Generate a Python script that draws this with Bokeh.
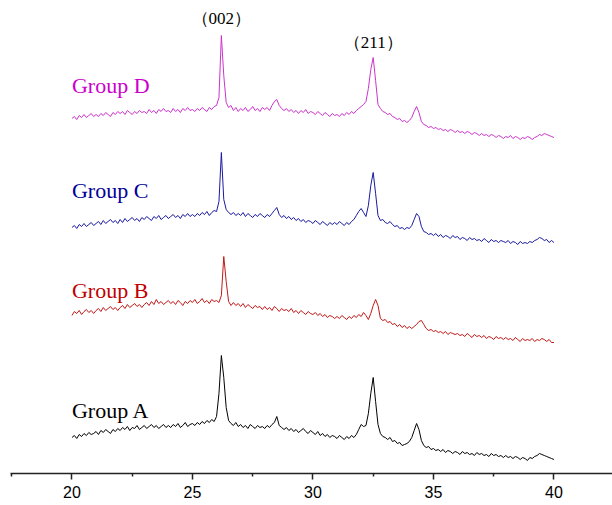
from bokeh.plotting import figure
from bokeh.models import Range1d, FixedTicker, ColumnDataSource
from bokeh.core.properties import value
from bokeh.embed import file_html
from bokeh.resources import INLINE

# 2-theta sampling grid (degrees), 20.0 .. 40.0 every 0.1
two_theta = [round(20 + 0.1 * i, 1) for i in range(201)]

# Stacked intensities (arbitrary units), one row per degree
group_a = [
    36, 38, 35, 39, 37, 40, 38, 41, 39, 40,
    42, 39, 43, 41, 44, 42, 40, 44, 42, 45,
    43, 46, 44, 47, 43, 46, 45, 48, 44, 46,
    48, 45, 47, 49, 46, 48, 45, 47, 49, 46,
    48, 46, 49, 47, 50, 46, 48, 51, 47, 49,
    50, 48, 51, 49, 52, 50, 53, 51, 54, 52,
    57, 80, 118, 96, 66, 53, 50, 48, 51, 47,
    49, 46, 48, 45, 49, 47, 45, 48, 46, 47,
    45, 48, 46, 49, 51, 57, 48, 46, 44, 46,
    43, 45, 42, 44, 41, 43, 45, 42, 40, 43,
    41, 39, 42, 38, 40, 37, 39, 36, 38, 37,
    35, 38, 36, 34, 37, 35, 38, 36, 39, 44,
    49, 47, 48, 60, 80, 96, 72, 49, 40, 37,
    36, 34, 36, 32, 33, 30, 31, 28, 29, 30,
    32, 36, 43, 50, 44, 33, 28, 26, 27, 24,
    25, 23, 24, 22, 24, 21, 23, 22, 20, 22,
    21, 19, 22, 20, 21, 19, 20, 18, 21, 19,
    20, 18, 19, 17, 20, 18, 19, 17, 18, 16,
    18, 16, 17, 15, 17, 16, 14, 16, 15, 13,
    16, 15, 17, 18, 20, 19, 18, 17, 16, 15,
    14,
]
group_b = [
    158, 162, 160, 163, 159, 162, 164, 161, 163, 160,
    163, 165, 162, 166, 163, 165, 167, 164, 166, 163,
    166, 168, 165, 169, 166, 168, 170, 167, 169, 166,
    169, 171, 168, 172, 169, 174, 170, 172, 169, 171,
    173, 170, 172, 169, 173, 171, 168, 172, 170, 173,
    171, 174, 170, 172, 175, 171, 173, 170, 174, 172,
    173, 171, 178, 217, 192, 172, 168, 171, 168, 170,
    167, 170, 166, 169, 167, 165, 168, 166, 167, 164,
    167, 164, 166, 163, 167, 165, 162, 165, 163, 164,
    162, 165, 161, 163, 160, 163, 161, 159, 162, 160,
    159, 161, 158, 160, 157, 159, 156, 158, 157, 155,
    157, 155, 158, 156, 154, 157, 155, 158, 156, 159,
    157, 161, 158, 154, 160, 168, 174, 168, 155, 153,
    154, 151, 152, 149, 150, 147, 149, 146, 148, 145,
    147, 145, 147, 149, 152, 153, 149, 145, 143, 144,
    142, 143, 141, 142, 140, 142, 139, 141, 140, 139,
    140, 138, 139, 137, 140, 138, 136, 139, 137, 138,
    136, 138, 135, 137, 136, 134, 137, 135, 136, 134,
    136, 134, 135, 133, 136, 134, 132, 135, 133, 134,
    133, 135, 132, 134, 133, 135, 134, 132, 134, 131,
    131,
]
group_c = [
    246, 248, 245, 249, 247, 250, 247, 249, 251, 248,
    250, 252, 249, 253, 250, 252, 254, 251, 253, 250,
    254, 251, 255, 252, 254, 256, 253, 255, 252, 256,
    254, 257, 255, 253, 257, 255, 258, 254, 256, 258,
    255, 257, 259, 256, 258, 255, 259, 257, 260, 257,
    259, 257, 260, 258, 261, 259, 262, 258, 261, 263,
    262, 272, 321, 274, 264, 261, 259, 261, 258, 260,
    258, 261, 257, 260, 258, 256, 259, 257, 260, 258,
    256, 259, 257, 260, 263, 266, 259, 256, 258, 255,
    257, 254, 256, 253, 255, 252, 254, 251, 253, 252,
    250, 253, 251, 249, 252, 250, 248, 251, 249, 251,
    249, 252, 250, 248, 251, 249, 252, 254, 258, 262,
    265, 261, 257, 268, 288, 301, 280, 258, 253, 254,
    251, 250, 252, 249, 247, 248, 245, 246, 244, 246,
    245, 248, 254, 260, 257, 247, 242, 241, 239, 240,
    238, 240, 237, 239, 236, 238, 237, 235, 238, 236,
    237, 234, 236, 235, 233, 236, 234, 235, 233, 234,
    232, 235, 233, 231, 234, 232, 233, 231, 233, 232,
    231, 233, 230, 232, 231, 229, 232, 230, 231, 230,
    232, 231, 233, 234, 236, 235, 233, 234, 231, 233,
    231,
]
group_d = [
    355, 357, 354, 358, 356, 359, 356, 358, 360, 357,
    359, 357, 360, 358, 361, 359, 357, 361, 359, 362,
    360, 362, 359, 363, 361, 359, 362, 360, 363, 361,
    362, 360, 364, 361, 363, 360, 364, 362, 365, 362,
    363, 361, 365, 362, 364, 361, 365, 363, 366, 363,
    364, 362, 365, 363, 366, 364, 362, 366, 364, 367,
    368, 376, 438, 398, 371, 366, 368, 363, 366, 362,
    365, 363, 366, 362, 364, 367, 363, 365, 362, 366,
    364, 366, 363, 368, 372, 374, 368, 365, 363, 365,
    362, 364, 361, 363, 360, 363, 361, 364, 360, 362,
    361, 359, 362, 360, 358, 361, 359, 357, 360, 358,
    359, 357, 360, 358, 361, 359, 362, 360, 363, 365,
    367, 369, 372, 385, 404, 416, 393, 369, 365, 362,
    361, 359, 360, 357, 356, 354, 355, 352, 353, 351,
    353, 356, 362, 367, 361, 352, 349, 348, 346, 347,
    345, 346, 344, 345, 343, 344, 342, 344, 343, 341,
    343, 341, 342, 340, 342, 341, 339, 341, 340, 338,
    340, 338, 339, 337, 339, 338, 336, 338, 337, 335,
    337, 336, 338, 335, 337, 336, 334, 336, 335, 337,
    336, 334, 336, 337, 339, 338, 340, 339, 338, 337,
    336,
]

group_names = ["Group A", "Group B", "Group C", "Group D"]
group_series = [group_a, group_b, group_c, group_d]
line_colors = ["#000000", "#C01818", "#1A1AA0", "#CC33CC"]
text_colors = ["#000000", "#C00000", "#000099", "#CC00CC"]
label_y = [63, 183, 283, 388]

peak_labels = ["（002）", "（211）"]
peak_x = [26.2, 32.5]
peak_label_y = [455, 431]

major_ticks = [20, 25, 30, 35, 40]
minor_ticks = [17.5, 22.5, 27.5, 32.5, 37.5, 42.5]

p = figure(width=612, height=505, output_backend="svg", toolbar_location=None,
           x_range=Range1d(17.45, 42.43), y_range=Range1d(0, 473),
           min_border_left=10, min_border_right=0, min_border_top=0,
           min_border_bottom=32)
p.outline_line_color = None
p.grid.visible = False
p.yaxis.visible = False

for name, ys, lc, tc, ly in zip(group_names, group_series, line_colors, text_colors, label_y):
    src = ColumnDataSource(dict(x=two_theta, y=ys))
    p.line("x", "y", source=src, line_color=lc, line_width=1)
    p.text(x=[20.0], y=[ly], text=[name], text_color=tc,
           text_font=value("Liberation Serif"), text_font_size="22px",
           text_align="left", text_baseline="middle")

p.text(x=peak_x, y=peak_label_y, text=peak_labels, text_color="#000000",
       text_font=value("Liberation Serif"), text_font_size="17px",
       text_align="center", text_baseline="middle")

ax = p.xaxis[0]
ax.ticker = FixedTicker(ticks=major_ticks, minor_ticks=minor_ticks)
ax.axis_line_width = 1.5
ax.axis_line_color = "#222222"
ax.major_tick_line_color = "#222222"
ax.minor_tick_line_color = "#222222"
ax.major_tick_line_width = 1.5
ax.minor_tick_line_width = 1.5
ax.major_tick_in = 0
ax.major_tick_out = 6
ax.minor_tick_in = 0
ax.minor_tick_out = 3
ax.major_label_standoff = 6
ax.major_label_text_font = "Liberation Sans"
ax.major_label_text_font_size = "16px"
ax.major_label_text_color = "#000000"

open("out.html", "w").write(file_html(p, INLINE))
